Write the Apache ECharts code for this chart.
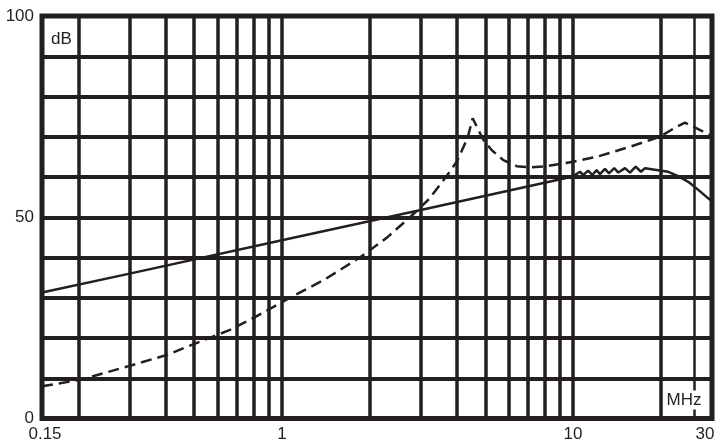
<!DOCTYPE html>
<html><head><meta charset="utf-8">
<script src="https://cdn.jsdelivr.net/npm/echarts@6/dist/echarts.min.js"></script>
<style>html,body{margin:0;padding:0;background:#fff}#c{width:725px;height:447px}</style>
</head><body><div id="c"></div>
<script>
// Tick labels
const xTickLabels = [0.15, 1, 10, 30];
const yTickLabels = [0, 50, 100];
// Vertical gridline frequencies (MHz)
const xGridLines = [0.2, 0.3, 0.4, 0.5, 0.6, 0.7, 0.8, 0.9, 1, 2, 3, 4, 5, 6, 7, 8, 9, 10, 20];
const xGridThin = [26];
// Solid curve
const solidFreq = [0.15, 0.3, 1, 3, 9.38, 10.15, 10.56, 10.84, 11.27, 11.64, 12.05, 12.37, 12.87, 13.28, 13.85, 14.30, 15.08, 15.68, 16.40, 17.11, 17.66, 19.61, 21.23, 22.97, 24.86, 26.91, 29.13, 30];
const solidDb   = [31.3, 36.0, 44.3, 51.8, 59.7, 60.5, 61.3, 60.5, 61.6, 60.5, 61.7, 60.7, 62.0, 60.9, 62.2, 61.1, 62.2, 61.1, 62.6, 61.3, 62.2, 61.7, 61.3, 60.2, 58.8, 56.8, 54.7, 54.0];
// Dashed curve
const dashFreq = [0.15, 0.2026, 0.294, 0.403, 0.511, 0.663, 0.8, 1.066, 1.4, 1.854, 2.3, 2.753, 3.2, 3.66, 4.0, 4.355, 4.52, 4.73, 4.92, 5.25, 5.76, 6.40, 7.11, 8.12, 10.01, 12.05, 15.68, 19.88, 22.69, 24.23, 25.86, 29.52, 30];
const dashDb   = [8.0, 9.6, 12.9, 15.8, 18.8, 22.0, 25.0, 30.0, 34.5, 40.0, 45.0, 50.0, 54.5, 60.0, 64.0, 70.0, 74.6, 71.7, 69.2, 66.7, 64.2, 62.7, 62.4, 62.7, 63.8, 65.0, 67.5, 70.0, 72.5, 73.5, 72.5, 70.4, 70.2];

const INK = '#231f20';
const FONT = '"Liberation Sans", Arial, sans-serif';
const zip = (a, b) => a.map((v, i) => [v, b[i]]);

const chart = echarts.init(document.getElementById('c'), null, {renderer: 'canvas'});
chart.setOption({
  animation: false,
  backgroundColor: '#fff',
  grid: {left: 42, right: 13, top: 16, bottom: 28.5, show: true, borderColor: INK, borderWidth: 5, backgroundColor: 'transparent'},
  xAxis: {
    type: 'log', logBase: 10, min: 0.15, max: 30,
    axisLine: {show: false}, axisTick: {show: false}, splitLine: {show: false}, minorSplitLine: {show: false},
    axisLabel: {
      customValues: xTickLabels,
      margin: 7, color: INK, fontSize: 17, fontFamily: FONT,
      formatter: v => {
        const n = +(+v).toPrecision(3);
        if (Math.abs(n - 30) < 1e-6) return '{r|30}';
        if (Math.abs(n - 0.15) < 1e-6) return '{l|0.15}';
        return String(n);
      },
      rich: {
        r: {fontSize: 17, fontFamily: FONT, color: INK, padding: [0, 14, 0, 0]},
        l: {fontSize: 17, fontFamily: FONT, color: INK, padding: [0, 0, 0, 6]}
      }
    }
  },
  yAxis: {
    type: 'value', min: 0, max: 100, interval: 10,
    axisLine: {show: false}, axisTick: {show: false},
    splitLine: {show: true, lineStyle: {color: INK, width: 4}},
    axisLabel: {customValues: yTickLabels, margin: 8, color: INK, fontSize: 17, fontFamily: FONT}
  },
  series: [
    {
      type: 'line', data: [], silent: true, z: 1,
      markLine: {
        silent: true, symbol: ['none', 'none'], z: 1, animation: false,
        label: {show: false},
        data: xGridLines.map(f => ({xAxis: f, lineStyle: {color: INK, width: 3.5, type: 'solid'}}))
          .concat(xGridThin.map(f => ({xAxis: f, lineStyle: {color: INK, width: 2.5, type: 'solid'}})))
      }
    },
    {
      type: 'line', data: zip(solidFreq, solidDb), showSymbol: false, symbol: 'none', z: 3,
      lineStyle: {color: INK, width: 2.5}, clip: true
    },
    {
      type: 'line', data: zip(dashFreq, dashDb), showSymbol: false, symbol: 'none', z: 3,
      lineStyle: {color: INK, width: 2.5, type: [11, 6]}, clip: true
    }
  ],
  graphic: [
    {type: 'text', z: 100, style: {text: 'dB', x: 61.5, y: 39, align: 'center', verticalAlign: 'middle', font: '17px ' + FONT, fill: INK}},
    {type: 'text', z: 100, style: {text: 'MHz', x: 684, y: 400, align: 'center', verticalAlign: 'middle', font: '17px ' + FONT, fill: INK, backgroundColor: '#fff', padding: [1, 2, 1, 2]}}
  ]
});
</script>
</body></html>
